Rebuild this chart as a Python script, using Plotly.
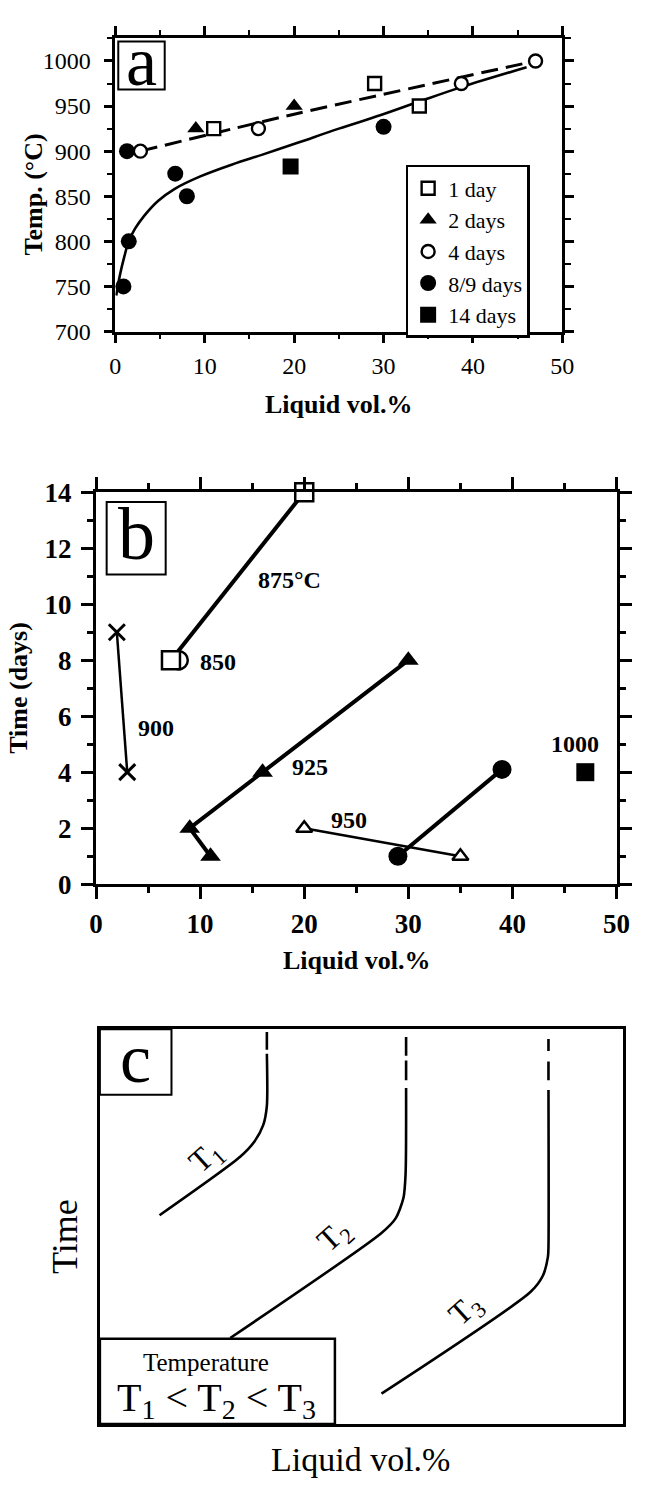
import plotly.graph_objects as go

W, H = 647, 1493
SERIF = "Liberation Serif"

# ---------------- Panel a data ----------------
a_1day_x = [11, 29, 34]
a_1day_y = [925, 975, 950]
a_2day_x = [9, 20]
a_2day_y = [925, 950]
a_4day_x = [2.8, 16, 38.7, 47]
a_4day_y = [900, 925, 975, 1000]
a_89day_x = [1.3, 0.9, 1.5, 6.7, 8, 30]
a_89day_y = [900, 750, 800, 875, 850, 927]
a_14day_x = [19.6]
a_14day_y = [883]
a_dash_x = [2.8, 20, 47]
a_dash_y = [900, 941, 1000]
a_fit_x = [0.1, 0.5, 1.0, 1.5, 2.2, 3.2, 4.8, 6.6, 9.5, 13, 16.7, 20.3, 25, 29.7, 34, 38.7, 46]
a_fit_y = [740, 762, 783, 800, 814, 828, 845, 858, 872, 885, 897, 909, 925, 940, 955, 971, 993]

# ---------------- Panel b data ----------------
b875_x = [7.2, 20]
b875_y = [8, 14]
b850_x = [7.95]
b850_y = [8]
b900_x = [2, 3]
b900_y = [9, 4]
b925_x = [30, 16, 9, 11]
b925_y = [8, 4, 2, 1]
b950_x = [20, 35]
b950_y = [2, 1]
b975_x = [29, 39]
b975_y = [1, 4.1]
b1000_x = [47]
b1000_y = [4]
b_labels = ["875°C", "850", "900", "925", "950", "1000"]
b_label_x = [18.6, 11.7, 5.8, 20.6, 24.3, 46]
b_label_y = [10.85, 7.95, 5.57, 4.2, 2.3, 5.0]

# ---------------- Panel c schematic curves (fraction of box) ----------------
c_T1_x = [0.114, 0.268, 0.295, 0.312, 0.319, 0.319]
c_T1_y = [0.529, 0.677, 0.715, 0.757, 0.806, 0.938]
c_T1_dash_x = [0.319, 0.319]
c_T1_dash_y = [0.948, 0.993]
c_T2_x = [0.249, 0.538, 0.565, 0.580, 0.584, 0.585]
c_T2_y = [0.218, 0.484, 0.521, 0.573, 0.633, 0.851]
c_T2_dash_x = [0.585, 0.585, None, 0.585, 0.585]
c_T2_dash_y = [0.871, 0.921, None, 0.933, 0.980]
c_T3_x = [0.538, 0.823, 0.846, 0.856, 0.857, 0.857]
c_T3_y = [0.077, 0.335, 0.375, 0.424, 0.45, 0.846]
c_T3_dash_x = [0.857, 0.857, None, 0.857, 0.857]
c_T3_dash_y = [0.871, 0.918, None, 0.945, 0.975]
c_T_labels = ["T<sub>1</sub>", "T<sub>2</sub>", "T<sub>3</sub>"]
c_T_label_x = [0.204, 0.449, 0.70]
c_T_label_y = [0.675, 0.476, 0.287]


def px(x):
    return x / W


def py(y):
    return 1 - y / H


fig = go.Figure()

# Panel a traces
fig.add_trace(go.Scatter(x=a_dash_x, y=a_dash_y, mode="lines", line=dict(color="black", width=3, dash="17px,8px", shape="spline", smoothing=0.6),
                         showlegend=False, xaxis="x", yaxis="y", hoverinfo="skip"))
fig.add_trace(go.Scatter(x=a_fit_x, y=a_fit_y, mode="lines", line=dict(color="black", width=2.6, shape="spline", smoothing=1.0),
                         showlegend=False, xaxis="x", yaxis="y", hoverinfo="skip"))
openm = dict(color="white", line=dict(color="black", width=2.4))
fig.add_trace(go.Scatter(x=a_1day_x, y=a_1day_y, mode="markers", name="1 day",
                         marker=dict(symbol="square", size=13, **openm), xaxis="x", yaxis="y"))
fig.add_trace(go.Scatter(x=a_2day_x, y=a_2day_y, mode="markers", name="2 days",
                         marker=dict(symbol="triangle-up", size=15, color="black"), xaxis="x", yaxis="y"))
fig.add_trace(go.Scatter(x=a_4day_x, y=a_4day_y, mode="markers", name="4 days",
                         marker=dict(symbol="circle", size=13, **openm), xaxis="x", yaxis="y"))
fig.add_trace(go.Scatter(x=a_89day_x, y=a_89day_y, mode="markers", name="8/9 days",
                         marker=dict(symbol="circle", size=16, color="black"), xaxis="x", yaxis="y", cliponaxis=False))
fig.add_trace(go.Scatter(x=a_14day_x, y=a_14day_y, mode="markers", name="14 days",
                         marker=dict(symbol="square", size=16, color="black"), xaxis="x", yaxis="y"))

# Panel b traces
thick, thin = 4, 2.5
# open circle drawn first so the white square covers its left half (the "D" shape)
fig.add_trace(go.Scatter(x=b850_x, y=b850_y, mode="markers",
                         marker=dict(symbol="circle", size=18, color="white", line=dict(color="black", width=2.5)),
                         showlegend=False, xaxis="x2", yaxis="y2", cliponaxis=False))
fig.add_trace(go.Scatter(x=b875_x, y=b875_y, mode="lines+markers", line=dict(color="black", width=thick),
                         marker=dict(symbol="square", size=18, color="white", line=dict(color="black", width=2.5)),
                         showlegend=False, xaxis="x2", yaxis="y2", cliponaxis=False))
fig.add_trace(go.Scatter(x=b900_x, y=b900_y, mode="lines+markers", line=dict(color="black", width=thin),
                         marker=dict(symbol="x-thin-open", size=16, color="black", line=dict(color="black", width=3)),
                         showlegend=False, xaxis="x2", yaxis="y2", cliponaxis=False))
fig.add_trace(go.Scatter(x=b925_x, y=b925_y, mode="lines+markers", line=dict(color="black", width=thick),
                         marker=dict(symbol="triangle-up", size=18, color="black"),
                         showlegend=False, xaxis="x2", yaxis="y2", cliponaxis=False))
fig.add_trace(go.Scatter(x=b950_x, y=b950_y, mode="lines+markers", line=dict(color="black", width=thin),
                         marker=dict(symbol="triangle-up", size=14, color="white", line=dict(color="black", width=2.5)),
                         showlegend=False, xaxis="x2", yaxis="y2", cliponaxis=False))
fig.add_trace(go.Scatter(x=b975_x, y=b975_y, mode="lines+markers", line=dict(color="black", width=thick),
                         marker=dict(symbol="circle", size=19, color="black"),
                         showlegend=False, xaxis="x2", yaxis="y2", cliponaxis=False))
fig.add_trace(go.Scatter(x=b1000_x, y=b1000_y, mode="markers",
                         marker=dict(symbol="square", size=18, color="black"),
                         showlegend=False, xaxis="x2", yaxis="y2", cliponaxis=False))

# Panel c traces
for cx, cy in [(c_T1_x, c_T1_y), (c_T2_x, c_T2_y), (c_T3_x, c_T3_y)]:
    fig.add_trace(go.Scatter(x=cx, y=cy, mode="lines", line=dict(color="black", width=2.6, shape="spline", smoothing=0.7),
                             showlegend=False, xaxis="x3", yaxis="y3", hoverinfo="skip"))
for cx, cy in [(c_T1_dash_x, c_T1_dash_y), (c_T2_dash_x, c_T2_dash_y), (c_T3_dash_x, c_T3_dash_y)]:
    fig.add_trace(go.Scatter(x=cx, y=cy, mode="lines", line=dict(color="black", width=2.6),
                             showlegend=False, xaxis="x3", yaxis="y3", hoverinfo="skip", connectgaps=False))

# ---------------- Axes ----------------
common = dict(showgrid=False, zeroline=False, showline=True, linecolor="black", mirror="ticks",
              ticks="outside", tickcolor="black", fixedrange=True)

fig.update_layout(
    xaxis=dict(domain=[px(112), px(574)], range=[0, 50], tickvals=[0, 10, 20, 30, 40, 50], anchor="y",
               linewidth=2.5, ticklen=9, tickwidth=2.5, ticklabelstandoff=2,
               minor=dict(dtick=5, tick0=0, ticklen=5, tickwidth=2.2, ticks="outside", tickcolor="black"),
               tickfont=dict(family=SERIF, size=24, color="black"), **common),
    yaxis=dict(domain=[py(323), py(23)], range=[700, 1026], tickvals=[700, 750, 800, 850, 900, 950, 1000], anchor="x",
               linewidth=2.5, ticklen=9, tickwidth=2.5, ticklabelstandoff=8,
               minor=dict(dtick=25, tick0=700, ticklen=6, tickwidth=2.2, ticks="outside", tickcolor="black"),
               tickfont=dict(family=SERIF, size=24, color="black"), **common),
    xaxis2=dict(domain=[px(92), px(630)], range=[0, 50], tickvals=[0, 10, 20, 30, 40, 50], anchor="y2",
                linewidth=3, ticklen=12, tickwidth=3, ticklabelstandoff=1,
                minor=dict(dtick=5, tick0=0, ticklen=6, tickwidth=2.5, ticks="outside", tickcolor="black"),
                tickfont=dict(family=SERIF, size=27, color="black", weight="bold"), **common),
    yaxis2=dict(domain=[py(887), py(487)], range=[0, 14], tickvals=[0, 2, 4, 6, 8, 10, 12, 14], anchor="x2",
                linewidth=3, ticklen=12, tickwidth=3, ticklabelstandoff=4,
                minor=dict(dtick=1, tick0=0, ticklen=6, tickwidth=2.5, ticks="outside", tickcolor="black"),
                tickfont=dict(family=SERIF, size=27, color="black", weight="bold"), **common),
    xaxis3=dict(domain=[px(96), px(637)], range=[0, 1], anchor="y3", showticklabels=False, ticks="",
                showgrid=False, zeroline=False, showline=True, linecolor="black", linewidth=2.5, mirror=True, fixedrange=True),
    yaxis3=dict(domain=[py(1438), py(1035)], range=[0, 1], anchor="x3", showticklabels=False, ticks="",
                showgrid=False, zeroline=False, showline=True, linecolor="black", linewidth=2.5, mirror=True, fixedrange=True),
)

# ---------------- Legend (panel a) ----------------
fig.update_layout(
    showlegend=True,
    legend=dict(x=px(412), y=py(153), xanchor="left", yanchor="top", bgcolor="white",
                bordercolor="black", borderwidth=2.5, font=dict(family=SERIF, size=22, color="black"),
                tracegroupgap=0, itemwidth=30),
)

# ---------------- Panel letter boxes ----------------
shapes = []
annotations = []
for (x0, y0, x1, y1, letter, size) in [(115, 27, 163, 76, "a", 70), (103, 497, 164, 571, "b", 74), (96, 1035, 170, 1102, "c", 70)]:
    shapes.append(dict(type="rect", xref="paper", yref="paper", x0=px(x0), x1=px(x1), y0=py(y1), y1=py(y0),
                       line=dict(color="black", width=2), fillcolor="white", layer="above"))
    annotations.append(dict(xref="paper", yref="paper", x=px((x0 + x1) / 2), y=py((y0 + y1) / 2 - 4), text=letter,
                            showarrow=False, xanchor="center", yanchor="middle",
                            font=dict(family=SERIF, size=size, color="black")))

# Panel c legend box
shapes.append(dict(type="rect", xref="x3", yref="y3", x0=0, x1=0.449, y0=0, y1=0.216,
                   line=dict(color="black", width=2.5), fillcolor="white", layer="above"))
annotations.append(dict(xref="x3", yref="y3", x=0.203, y=0.156, text="Temperature", showarrow=False,
                        xanchor="center", yanchor="middle",
                        font=dict(family=SERIF, size=25, color="black")))
annotations.append(dict(xref="x3", yref="y3", x=0.222, y=0.062,
                        text="T<sub>1</sub> &lt; T<sub>2</sub> &lt; T<sub>3</sub>", showarrow=False,
                        xanchor="center", yanchor="middle",
                        font=dict(family=SERIF, size=40, color="black")))
for t, tx, ty in zip(c_T_labels, c_T_label_x, c_T_label_y):
    annotations.append(dict(xref="x3", yref="y3", x=tx, y=ty, text=t, showarrow=False, textangle=-42,
                            xanchor="center", yanchor="middle",
                            font=dict(family=SERIF, size=32, color="black")))

# Panel b labels
for t, tx, ty in zip(b_labels, b_label_x, b_label_y):
    annotations.append(dict(xref="x2", yref="y2", x=tx, y=ty, text="<b>" + t + "</b>", showarrow=False,
                            xanchor="center", yanchor="middle",
                            font=dict(family=SERIF, size=24, color="black")))

# Axis titles
title_specs = [
    (27, 183, "<b>Temp. (°C)</b>", -90, 26),
    (343, 397, "<b>Liquid vol.%</b>", 0, 26),
    (12, 687, "<b>Time (days)</b>", -90, 26),
    (361, 965, "<b>Liquid vol.%</b>", 0, 26),
    (60, 1247, "Time", -90, 36),
    (365, 1474, "Liquid vol.%", 0, 34),
]
for tx, ty, t, ang, sz in title_specs:
    annotations.append(dict(xref="paper", yref="paper", x=px(tx), y=py(ty), text=t, textangle=ang, showarrow=False,
                            xanchor="center", yanchor="middle",
                            font=dict(family=SERIF, size=sz, color="black")))

fig.update_layout(
    width=W, height=H, margin=dict(l=0, r=0, t=0, b=0, pad=0),
    paper_bgcolor="white", plot_bgcolor="white",
    shapes=shapes, annotations=annotations,
    font=dict(family=SERIF, color="black"),
)

fig.write_html("out.html")
